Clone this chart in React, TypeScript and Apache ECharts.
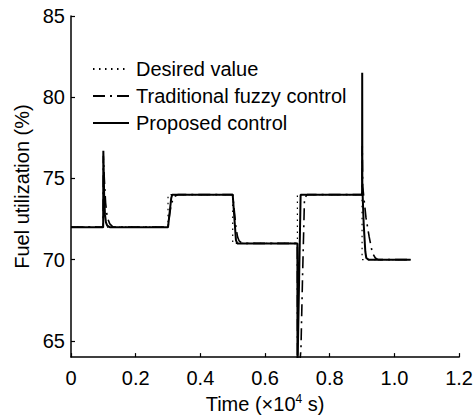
import React, { useEffect, useRef } from "react";
import * as echarts from "echarts";

const FONT = "'Liberation Sans', Arial, Helvetica, sans-serif";

const seriesNames = ["Desired value", "Traditional fuzzy control", "Proposed control"];

const xTickValues = [0, 0.2, 0.4, 0.6, 0.8, 1.0, 1.2];
const yTickValues = [65, 70, 75, 80, 85];

// time in 10^4 s, value in %
const desiredT = [0, 0.3, 0.3, 0.5, 0.5, 0.7, 0.7, 0.9, 0.9, 1.05];
const desiredV = [72, 72, 74, 74, 71, 71, 74, 74, 70, 70];

const fuzzyT = [
  0, 0.0995, 0.1, 0.103, 0.107, 0.112, 0.12, 0.13,
  0.3, 0.305, 0.31, 0.315, 0.32, 0.33,
  0.5, 0.505, 0.51, 0.515, 0.52, 0.53,
  0.7, 0.7005, 0.705, 0.711, 0.716, 0.722, 0.73,
  0.9, 0.9005, 0.902, 0.912, 0.922, 0.932, 0.941, 0.95, 1.05,
];
const fuzzyV = [
  72, 72, 76.4, 75, 73.5, 72.6, 72.2, 72,
  72, 72.8, 73.4, 73.7, 73.9, 74,
  74, 73, 72, 71.4, 71.15, 71,
  71, 62, 63, 64.5, 69, 73.8, 74,
  74, 77, 74.5, 72.6, 71.4, 70.4, 70.1, 70, 70,
];

const proposedT = [
  0, 0.0995, 0.1, 0.1025, 0.105, 0.108, 0.112, 0.12,
  0.3, 0.31, 0.313,
  0.5, 0.51, 0.514,
  0.7, 0.7003, 0.7006, 0.71,
  0.9, 0.9004, 0.9008, 0.905, 0.91, 0.913, 0.92, 1.05,
];
const proposedV = [
  72, 72, 76.7, 74, 72.8, 72.3, 72.1, 72,
  72, 73.8, 74,
  74, 71.2, 71,
  71, 60, 63.5, 74,
  74, 81.5, 74.5, 72.2, 70.5, 70.1, 70, 70,
];

const pairs = (t: number[], v: number[]) => t.map((x, i) => [x, v[i]]);

export default function App() {
  const ref = useRef<HTMLDivElement>(null);
  useEffect(() => {
    if (!ref.current) return;
    const chart = echarts.init(ref.current, undefined, { renderer: "svg" });
    const axisCommon = {
      axisLine: { show: true, lineStyle: { color: "#000", width: 1.5 } },
      axisTick: { show: true, inside: true, length: 4, lineStyle: { color: "#000", width: 1.2 } },
      splitLine: { show: false },
    };
    chart.setOption({
      animation: false,
      backgroundColor: "#fff",
      textStyle: { fontFamily: FONT, color: "#000" },
      grid: { left: 71, right: 16, top: 16, bottom: 58, containLabel: false },
      legend: {
        orient: "vertical",
        left: 92,
        top: 59,
        padding: 0,
        itemWidth: 36,
        itemHeight: 16,
        itemGap: 7,
        data: seriesNames,
        itemStyle: { opacity: 0 },
        textStyle: { fontFamily: FONT, fontSize: 20, lineHeight: 20, color: "#000", padding: [0, 0, 0, 2] },
      },
      xAxis: {
        type: "value",
        min: 0,
        max: 1.2,
        interval: 0.2,
        ...axisCommon,
        axisLabel: {
          color: "#000",
          fontSize: 20,
          fontFamily: FONT,
          margin: 11,
          customValues: xTickValues,
          formatter: (v: number) => (v === 0 ? "0" : v.toFixed(1)),
        },
        axisTick: { ...axisCommon.axisTick, customValues: xTickValues },
        name: "{a|Time (×10}{s|4}{a| s)}",
        nameLocation: "middle",
        nameGap: 34,
        nameTextStyle: {
          color: "#000",
          fontFamily: FONT,
          rich: {
            a: { fontSize: 20, fontFamily: FONT, color: "#000", lineHeight: 22 },
            s: { fontSize: 12, fontFamily: FONT, color: "#000", lineHeight: 12, verticalAlign: "top" },
          },
        },
      },
      yAxis: {
        type: "value",
        min: 64,
        max: 85,
        ...axisCommon,
        axisTick: { ...axisCommon.axisTick, customValues: yTickValues },
        axisLabel: {
          color: "#000",
          fontSize: 20,
          fontFamily: FONT,
          margin: 6,
          customValues: yTickValues,
        },
        name: "Fuel utilization (%)",
        nameLocation: "middle",
        nameGap: 36,
        nameTextStyle: { color: "#000", fontSize: 20, fontFamily: FONT },
      },
      series: [
        {
          name: seriesNames[0],
          type: "line",
          symbol: "none",
          data: pairs(desiredT, desiredV),
          lineStyle: { color: "#000", width: 1.2, type: [1.5, 4.5] },
          itemStyle: { color: "#000" },
          z: 2,
        },
        {
          name: seriesNames[1],
          type: "line",
          symbol: "none",
          data: pairs(fuzzyT, fuzzyV),
          lineStyle: { color: "#000", width: 1.6, type: [12, 5, 2, 5] },
          itemStyle: { color: "#000" },
          z: 3,
        },
        {
          name: seriesNames[2],
          type: "line",
          symbol: "none",
          data: pairs(proposedT, proposedV),
          lineStyle: { color: "#000", width: 2 },
          itemStyle: { color: "#000" },
          z: 4,
        },
      ],
    });
    return () => chart.dispose();
  }, []);
  return <div ref={ref} style={{ width: 476, height: 419, position: "absolute", left: 0, top: 0 }} />;
}
